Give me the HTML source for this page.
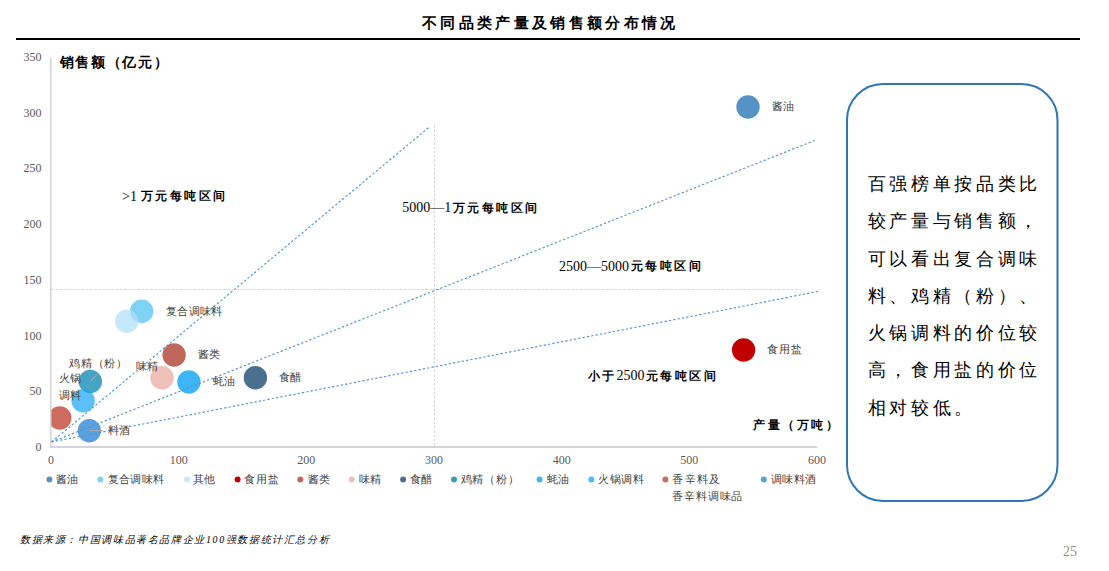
<!DOCTYPE html>
<html><head><meta charset="utf-8">
<style>
html,body{margin:0;padding:0;background:#fff;}
body{width:1109px;height:571px;position:relative;overflow:hidden;font-family:"Liberation Serif",serif;}
.t{position:absolute;white-space:nowrap;line-height:1;}
svg{position:absolute;left:0;top:0;}
.d{font-size:14px;}
.c{font-size:11.5px;font-weight:bold;letter-spacing:2.4px;}
</style></head><body>
<svg width="1109" height="571" viewBox="0 0 1109 571">
  <!-- top rule -->
  <rect x="16" y="38" width="1064" height="2" fill="#000"/>
  <!-- gray dotted guides -->
  <line x1="434.4" y1="125" x2="434.4" y2="446" stroke="#d0d0d0" stroke-width="1" stroke-dasharray="2.5 1.8"/>
  <line x1="51" y1="289.5" x2="801" y2="289.5" stroke="#d9d9d9" stroke-width="1" stroke-dasharray="3 1.3"/>
  <defs><clipPath id="pa"><rect x="50.5" y="45" width="800" height="401"/></clipPath></defs>
  <!-- bubbles -->
  <g clip-path="url(#pa)">
    <circle cx="748" cy="107" r="11.7" fill="#5592c6"/>
    <circle cx="743.6" cy="350" r="11.7" fill="#c00000"/>
    <circle cx="141.7" cy="311.2" r="11.7" fill="#7fd3f2"/>
    <circle cx="126.7" cy="321.3" r="11.7" fill="#b1e0fa" fill-opacity="0.73"/>
    <circle cx="174.1" cy="355" r="11.7" fill="#c0665a"/>
    <circle cx="162" cy="377.7" r="11.7" fill="#eec0b9"/>
    <circle cx="188.9" cy="382" r="11.7" fill="#3db6f7"/>
    <circle cx="255.4" cy="377.7" r="11.7" fill="#4b6f8f"/>
    <circle cx="90.3" cy="381.5" r="11.7" fill="#45a3c3"/>
    <circle cx="83.1" cy="400.8" r="11.7" fill="#1ea7f7" fill-opacity="0.73"/>
    <circle cx="59.8" cy="418" r="11.7" fill="#cc6b5e"/>
    <circle cx="89.3" cy="430.7" r="11.7" fill="#5aa0dc"/>
  </g>
  <!-- axes -->
  <line x1="50.75" y1="58" x2="50.75" y2="447" stroke="#d4d4d4" stroke-width="1.5"/>
  <line x1="50" y1="447" x2="817" y2="447" stroke="#d4d4d4" stroke-width="2"/>
  <!-- blue dashed price lines -->
  <g stroke="#5093d2" stroke-width="1.15" stroke-dasharray="2.3 2.1" fill="none">
    <line x1="51.5" y1="442" x2="429.6" y2="126.8"/>
    <line x1="51.5" y1="442" x2="814.7" y2="140.5"/>
    <line x1="51.5" y1="442" x2="818.2" y2="291.4"/>
  </g>
  <!-- leader lines -->
  <line x1="89.5" y1="430.6" x2="103" y2="430.6" stroke="#a6a6a6" stroke-width="1.2"/>
  <line x1="90.5" y1="381.4" x2="97.2" y2="374.3" stroke="#a6a6a6" stroke-width="1.2"/>
  <!-- legend markers -->
  <g>
    <circle cx="49.4" cy="479.4" r="3" fill="#5592c6"/>
    <circle cx="100.4" cy="479.4" r="3" fill="#7fd3f2"/>
    <circle cx="187" cy="479.4" r="3" fill="#c5e7fb"/>
    <circle cx="237.6" cy="479.4" r="3" fill="#c00000"/>
    <circle cx="300.3" cy="479.4" r="3" fill="#c0665a"/>
    <circle cx="351.7" cy="479.4" r="3" fill="#eec0b9"/>
    <circle cx="403.1" cy="479.4" r="3" fill="#4b6f8f"/>
    <circle cx="454" cy="479.4" r="3" fill="#3a9dbb"/>
    <circle cx="539.6" cy="479.4" r="3" fill="#3db6f7"/>
    <circle cx="591.3" cy="479.4" r="3" fill="#4dbaf7"/>
    <circle cx="665.4" cy="479.4" r="3" fill="#cc6b5e"/>
    <circle cx="763.8" cy="479.4" r="3" fill="#5aa0dc"/>
  </g>
  <!-- text box -->
  <rect x="847" y="84" width="210.5" height="417" rx="36" ry="36" fill="none" stroke="#2e75b6" stroke-width="2"/>
</svg>

<!-- title -->
<div class="t" style="left:422px;top:15.7px;font-size:15px;font-weight:bold;letter-spacing:3.32px;color:#000;">不同品类产量及销售额分布情况</div>

<!-- y ticks -->
<div id="yt" style="position:absolute;left:0;top:0;width:41.4px;font-size:12px;color:#595959;">
  <div class="t" style="right:0;top:51px;">350</div>
  <div class="t" style="right:0;top:106.7px;">300</div>
  <div class="t" style="right:0;top:162.4px;">250</div>
  <div class="t" style="right:0;top:218.1px;">200</div>
  <div class="t" style="right:0;top:273.8px;">150</div>
  <div class="t" style="right:0;top:329.5px;">100</div>
  <div class="t" style="right:0;top:385.2px;">50</div>
  <div class="t" style="right:0;top:440.9px;">0</div>
</div>
<!-- x ticks -->
<div style="position:absolute;left:0;top:454px;font-size:12px;color:#595959;">
  <div class="t" style="left:51px;transform:translateX(-50%);">0</div>
  <div class="t" style="left:178.7px;transform:translateX(-50%);">100</div>
  <div class="t" style="left:306.3px;transform:translateX(-50%);">200</div>
  <div class="t" style="left:434px;transform:translateX(-50%);">300</div>
  <div class="t" style="left:561.7px;transform:translateX(-50%);">400</div>
  <div class="t" style="left:689.3px;transform:translateX(-50%);">500</div>
  <div class="t" style="left:817px;transform:translateX(-50%);">600</div>
</div>

<!-- axis titles / region labels -->
<div class="t" style="left:59.5px;top:56px;font-size:14px;font-weight:bold;letter-spacing:1.67px;color:#000;">销售额（亿元）</div>
<div class="t" style="left:753px;top:419px;font-size:12px;font-weight:bold;letter-spacing:2.6px;color:#000;">产量（万吨）</div>
<div style="position:absolute;left:0;top:0;color:#000;">
  <div class="t d" style="left:122px;top:189.5px;">&gt;1</div>
  <div class="t c" style="left:141px;top:191px;">万元每吨区间</div>
  <div class="t d" style="left:402.3px;top:201.3px;">5000—1</div>
  <div class="t c" style="left:453px;top:203px;">万元每吨区间</div>
  <div class="t d" style="left:559px;top:260.3px;">2500—5000</div>
  <div class="t c" style="left:631px;top:261px;">元每吨区间</div>
  <div class="t c" style="left:588px;top:371px;">小于</div>
  <div class="t d" style="left:616.5px;top:369.2px;">2500</div>
  <div class="t c" style="left:646px;top:371px;">元每吨区间</div>
</div>

<!-- bubble labels -->
<div style="position:absolute;left:0;top:0;font-size:11px;color:#404040;">
  <div class="t" style="left:772px;top:101px;">酱油</div>
  <div class="t" style="left:767px;top:344px;letter-spacing:1px;">食用盐</div>
  <div class="t" style="left:166px;top:306px;letter-spacing:0.35px;">复合调味料</div>
  <div class="t" style="left:198px;top:349px;">酱类</div>
  <div class="t" style="left:213px;top:376px;">蚝油</div>
  <div class="t" style="left:279px;top:372px;">食醋</div>
  <div class="t" style="left:136px;top:361px;">味精</div>
  <div class="t" style="left:69px;top:358px;letter-spacing:0.8px;">鸡精（粉）</div>
  <div class="t" style="left:59px;top:373px;">火锅</div>
  <div class="t" style="left:59px;top:390px;">调料</div>
  <div class="t" style="left:108px;top:425px;">料酒</div>
</div>

<!-- legend text -->
<div style="position:absolute;left:0;top:473.5px;font-size:11px;color:#404040;">
  <div class="t" style="left:56px;">酱油</div>
  <div class="t" style="left:107.6px;letter-spacing:0.4px;">复合调味料</div>
  <div class="t" style="left:193.3px;">其他</div>
  <div class="t" style="left:244px;letter-spacing:1.1px;">食用盐</div>
  <div class="t" style="left:307.6px;">酱类</div>
  <div class="t" style="left:358.5px;">味精</div>
  <div class="t" style="left:409.9px;">食醋</div>
  <div class="t" style="left:460.7px;letter-spacing:0.8px;">鸡精（粉）</div>
  <div class="t" style="left:546.6px;">蚝油</div>
  <div class="t" style="left:598.3px;letter-spacing:0.5px;">火锅调料</div>
  <div class="t" style="left:672.4px;letter-spacing:1.2px;">香辛料及</div>
  <div class="t" style="left:672.4px;top:17.5px;letter-spacing:0.8px;">香辛料调味品</div>
  <div class="t" style="left:770.8px;letter-spacing:0.5px;">调味料酒</div>
</div>

<!-- text box content -->
<div style="position:absolute;left:867.5px;top:166px;width:200px;font-size:18px;line-height:37.3px;letter-spacing:3.7px;color:#000;">
  <div class="bl">百强榜单按品类比</div>
  <div class="bl">较产量与销售额，</div>
  <div class="bl">可以看出复合调味</div>
  <div class="bl">料、鸡精（粉）、</div>
  <div class="bl">火锅调料的价位较</div>
  <div class="bl">高，食用盐的价位</div>
  <div class="bl">相对较低。</div>
</div>

<!-- footer -->
<div class="t" style="left:20px;top:535.3px;font-size:10px;font-style:italic;color:#000;letter-spacing:1.62px;">数据来源：中国调味品著名品牌企业100强数据统计汇总分析</div>
<div class="t" style="left:1063px;top:545px;font-size:14px;color:#8c8c8c;">25</div>
</body></html>
